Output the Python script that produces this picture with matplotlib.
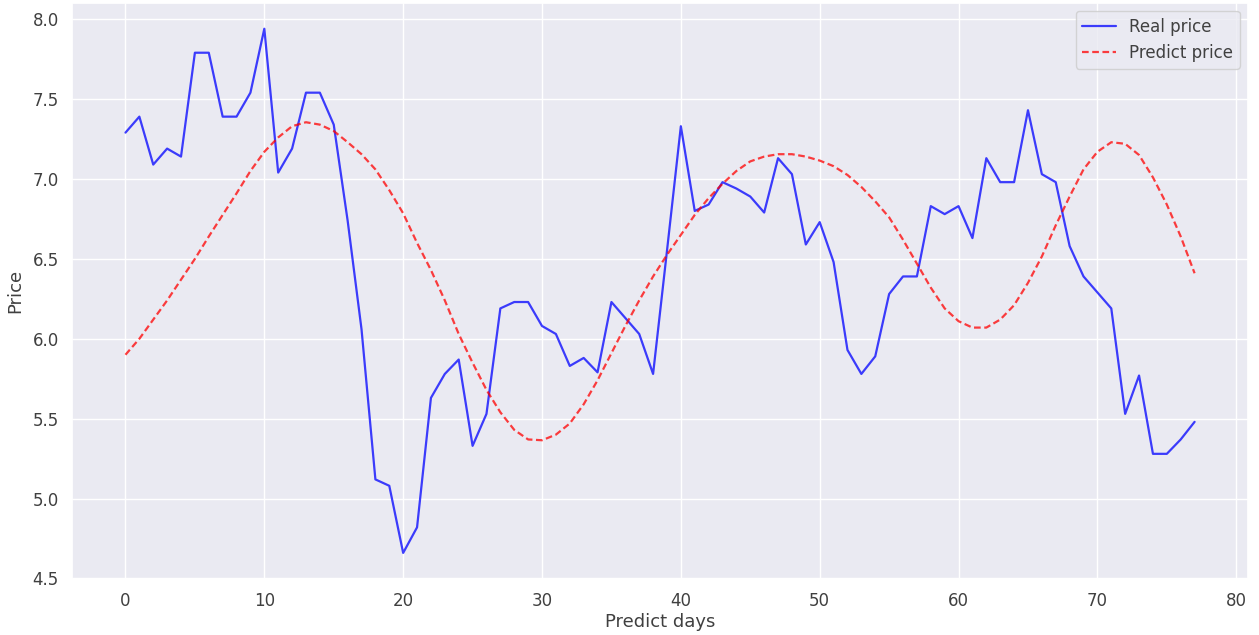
import matplotlib
matplotlib.use("Agg")
import matplotlib.pyplot as plt
import seaborn as sns
import numpy as np

days = list(range(78))

real_price = [7.29, 7.39, 7.09, 7.19, 7.14, 7.79, 7.79, 7.39, 7.39, 7.54,
              7.94, 7.04, 7.19, 7.54, 7.54, 7.34, 6.74, 6.06, 5.12, 5.08,
              4.66, 4.82, 5.63, 5.78, 5.87, 5.33, 5.53, 6.19, 6.23, 6.23,
              6.08, 6.03, 5.83, 5.88, 5.79, 6.23, 6.13, 6.03, 5.78, 6.55,
              7.33, 6.80, 6.84, 6.98, 6.94, 6.89, 6.79, 7.13, 7.03, 6.59,
              6.73, 6.48, 5.93, 5.78, 5.89, 6.28, 6.39, 6.39, 6.83, 6.78,
              6.83, 6.63, 7.13, 6.98, 6.98, 7.43, 7.03, 6.98, 6.58, 6.39,
              6.29, 6.19, 5.53, 5.77, 5.28, 5.28, 5.37, 5.48]

predict_price = [5.90, 6.00, 6.12, 6.24, 6.37, 6.50, 6.64, 6.775, 6.91, 7.05,
                 7.17, 7.26, 7.33, 7.355, 7.34, 7.30, 7.23, 7.155, 7.06, 6.93,
                 6.785, 6.60, 6.43, 6.24, 6.03, 5.85, 5.68, 5.54, 5.43, 5.37,
                 5.365, 5.40, 5.47, 5.59, 5.74, 5.91, 6.08, 6.24, 6.39, 6.525,
                 6.65, 6.775, 6.88, 6.97, 7.05, 7.11, 7.14, 7.155, 7.155, 7.14,
                 7.115, 7.08, 7.025, 6.95, 6.86, 6.76, 6.62, 6.47, 6.32, 6.19,
                 6.11, 6.07, 6.07, 6.12, 6.21, 6.35, 6.515, 6.71, 6.89, 7.06,
                 7.17, 7.23, 7.22, 7.15, 7.01, 6.84, 6.64, 6.41]

sns.set_theme(style="darkgrid")
plt.rcParams['font.family'] = ['DejaVu Sans']
plt.rcParams['text.color'] = '0.25'
plt.rcParams['axes.labelcolor'] = '0.25'
plt.rcParams['xtick.color'] = '0.25'
plt.rcParams['ytick.color'] = '0.25'

fig = plt.figure(figsize=(12.59, 6.35), dpi=100)
ax = fig.add_subplot(111)
fig.subplots_adjust(left=0.0572, right=0.9913, top=0.996, bottom=0.088)

ax.plot(days, real_price, color="blue", alpha=0.75, linewidth=1.6, label="Real price")
ax.plot(days, predict_price, color="red", alpha=0.75, linewidth=1.6, linestyle="--",
        dashes=(3, 1.6), label="Predict price")

ax.set_xlabel("Predict days", fontsize=13, labelpad=2)
ax.set_ylabel("Price", fontsize=13, labelpad=6)
ax.set_xticks(np.arange(0, 81, 10))
ax.set_yticks(np.arange(4.5, 8.01, 0.5))
ax.tick_params(labelsize=12)
ax.legend(loc="upper right", fontsize=12)

fig.savefig("out.png", dpi=100)
